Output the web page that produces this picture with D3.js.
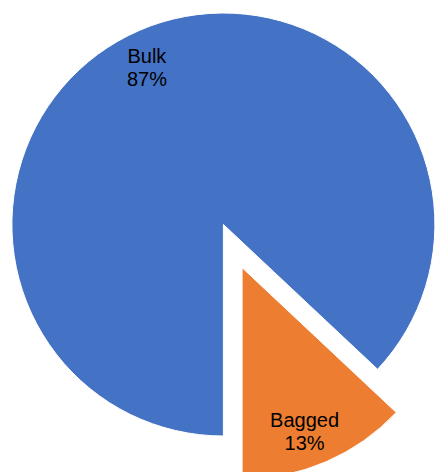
<!DOCTYPE html>
<html>
<head>
<meta charset="utf-8">
<script src="https://cdn.jsdelivr.net/npm/d3@7"></script>
<style>
  html, body { margin: 0; padding: 0; background: #fff; }
  svg { display: block; }
</style>
</head>
<body>
<svg id="chart" width="435" height="472"></svg>
<script>
const categories = ["Bulk", "Bagged"];
const values = [87, 13];
const percentLabels = ["87%", "13%"];
const colors = ["#4472C4", "#ED7D31"];
const exploded = [false, true];

const svg = d3.select("#chart");
const cx = 223.4, cy = 224.5, R = 211.5;
const explodeDist = 47;

const pie = d3.pie().sort(null).startAngle(Math.PI).endAngle(3 * Math.PI);
const arcs = pie(values);
const arc = d3.arc().innerRadius(0).outerRadius(R);
const labelArc = d3.arc().innerRadius(175).outerRadius(175);
const labelShiftX = -7, labelShiftY = 3.5;

const g = svg.append("g").attr("transform", `translate(${cx},${cy})`);

const slices = g.selectAll("g.slice").data(arcs).enter().append("g")
  .attr("class", "slice")
  .attr("transform", (d, i) => {
    if (!exploded[i]) return null;
    const mid = (d.startAngle + d.endAngle) / 2;
    return `translate(${Math.sin(mid) * explodeDist},${-Math.cos(mid) * explodeDist})`;
  });

slices.append("path")
  .attr("d", arc)
  .attr("fill", (d, i) => colors[i])
  .attr("stroke", "#fff")
  .attr("stroke-width", 1);

const fontSize = 20, lineH = 23, capH = 14.3;
slices.append("text")
  .attr("text-anchor", "middle")
  .attr("font-family", "Liberation Sans, Arial, sans-serif")
  .attr("font-size", fontSize)
  .attr("fill", "#000")
  .each(function (d, i) {
    const [x0, y0] = labelArc.centroid(d);
    const x = x0 + labelShiftX, y = y0 + labelShiftY;
    const b1 = y - (lineH - capH) / 2;
    const t = d3.select(this);
    t.append("tspan").attr("x", x).attr("y", b1).text(categories[i]);
    t.append("tspan").attr("x", x).attr("y", b1 + lineH).text(percentLabels[i]);
  });
</script>
</body>
</html>
